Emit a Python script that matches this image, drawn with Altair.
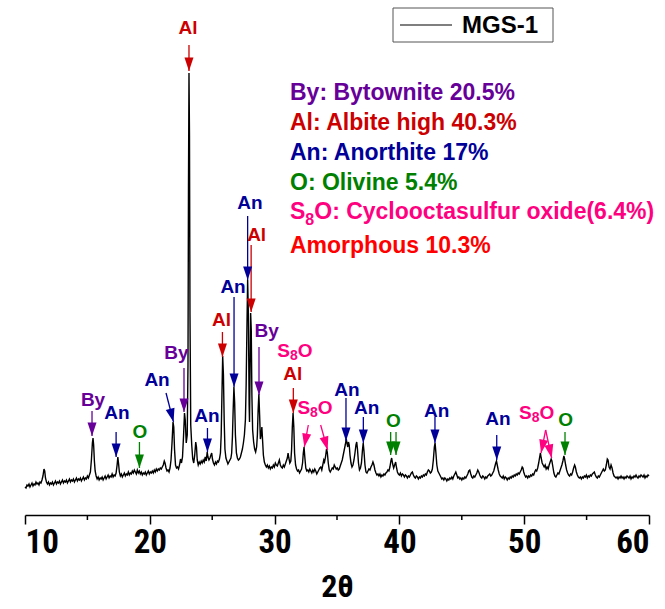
import math
import altair as alt
import pandas as pd

SERIES = "MGS-1"
X_DOMAIN = [10, 60]
Y_DOMAIN = [0, 515]
MAJOR_TICKS = [10, 20, 30, 40, 50, 60]
MINOR_TICKS = [15, 25, 35, 45, 55]

# XRD scan: (2θ in degrees, intensity in a.u.)
SCAN = [
    (10.00, 28), (10.08, 27), (10.16, 30), (10.24, 29), (10.32, 31), (10.40, 28), (10.48, 30), (10.56, 32),
    (10.64, 29), (10.72, 31), (10.80, 30), (10.88, 33), (10.96, 31), (11.04, 32), (11.12, 30), (11.20, 33),
    (11.28, 32), (11.36, 35), (11.44, 39), (11.52, 46), (11.58, 44), (11.64, 37), (11.72, 33), (11.80, 31),
    (11.88, 33), (11.96, 30), (12.04, 32), (12.12, 31), (12.20, 33), (12.28, 30), (12.36, 32), (12.44, 34),
    (12.52, 31), (12.60, 33), (12.68, 32), (12.76, 34), (12.84, 31), (12.92, 33), (13.00, 35), (13.08, 32),
    (13.16, 34), (13.24, 33), (13.32, 35), (13.40, 32), (13.48, 34), (13.56, 36), (13.64, 33), (13.72, 35),
    (13.80, 34), (13.88, 36), (13.96, 33), (14.04, 35), (14.12, 37), (14.20, 34), (14.28, 36), (14.36, 35),
    (14.44, 37), (14.52, 34), (14.60, 36), (14.68, 38), (14.76, 35), (14.84, 37), (14.92, 36), (15.00, 39),
    (15.08, 37), (15.16, 40), (15.24, 43), (15.32, 55), (15.40, 72), (15.45, 77), (15.50, 70), (15.56, 54),
    (15.62, 44), (15.70, 39), (15.78, 36), (15.86, 38), (15.94, 35), (16.02, 37), (16.10, 36), (16.18, 38),
    (16.26, 35), (16.34, 37), (16.42, 39), (16.50, 36), (16.58, 38), (16.66, 40), (16.74, 37), (16.82, 39),
    (16.90, 38), (16.98, 41), (17.06, 38), (17.14, 40), (17.22, 39), (17.30, 42), (17.38, 50), (17.44, 58),
    (17.50, 51), (17.56, 43), (17.64, 39), (17.72, 41), (17.80, 38), (17.88, 40), (17.96, 42), (18.04, 39),
    (18.12, 41), (18.20, 40), (18.28, 43), (18.36, 40), (18.44, 42), (18.52, 41), (18.60, 44), (18.68, 42),
    (18.76, 45), (18.84, 43), (18.92, 41), (19.00, 45), (19.08, 42), (19.16, 44), (19.24, 41), (19.32, 43),
    (19.40, 40), (19.48, 42), (19.56, 41), (19.64, 43), (19.72, 40), (19.80, 42), (19.88, 44), (19.96, 41),
    (20.04, 43), (20.12, 42), (20.20, 44), (20.28, 42), (20.36, 45), (20.44, 43), (20.52, 46), (20.60, 44),
    (20.68, 46), (20.76, 45), (20.84, 47), (20.92, 46), (21.00, 48), (21.08, 50), (21.16, 54), (21.22, 52),
    (21.30, 47), (21.38, 44), (21.46, 45), (21.54, 43), (21.62, 47), (21.70, 55), (21.78, 72), (21.86, 93),
    (21.92, 88), (21.98, 66), (22.06, 50), (22.14, 47), (22.22, 48), (22.30, 46), (22.38, 50), (22.46, 56),
    (22.54, 52), (22.62, 58), (22.70, 78), (22.78, 102), (22.84, 95), (22.92, 72), (23.00, 80), (23.06, 150),
    (23.10, 330), (23.14, 442), (23.18, 380), (23.22, 200), (23.28, 90), (23.36, 70), (23.44, 56), (23.52, 52),
    (23.60, 60), (23.68, 73), (23.74, 68), (23.80, 55), (23.88, 50), (23.96, 53), (24.04, 51), (24.12, 54),
    (24.20, 52), (24.28, 55), (24.36, 53), (24.44, 58), (24.52, 54), (24.60, 63), (24.66, 58), (24.74, 55),
    (24.82, 57), (24.90, 60), (24.96, 62), (25.02, 56), (25.10, 52), (25.18, 50), (25.26, 53), (25.34, 51),
    (25.42, 54), (25.50, 53), (25.58, 56), (25.66, 62), (25.72, 80), (25.78, 120), (25.84, 159), (25.90, 140),
    (25.96, 95), (26.02, 66), (26.10, 57), (26.18, 54), (26.26, 51), (26.34, 53), (26.42, 55), (26.50, 57),
    (26.56, 62), (26.62, 78), (26.68, 105), (26.74, 128), (26.80, 112), (26.86, 80), (26.94, 62), (27.02, 57),
    (27.10, 55), (27.18, 56), (27.26, 58), (27.34, 62), (27.42, 66), (27.50, 72), (27.58, 80), (27.66, 95),
    (27.72, 130), (27.78, 185), (27.84, 235), (27.90, 200), (27.96, 110), (27.99, 93), (28.03, 140), (28.08, 202),
    (28.13, 185), (28.18, 120), (28.24, 85), (28.32, 73), (28.40, 66), (28.48, 63), (28.56, 68), (28.62, 80),
    (28.68, 105), (28.74, 121), (28.80, 100), (28.86, 76), (28.92, 80), (28.98, 88), (29.04, 74), (29.10, 60),
    (29.18, 53), (29.26, 50), (29.34, 48), (29.42, 50), (29.50, 47), (29.58, 49), (29.66, 46), (29.74, 48),
    (29.82, 47), (29.90, 50), (29.98, 48), (30.06, 52), (30.14, 50), (30.22, 49), (30.30, 52), (30.38, 55),
    (30.46, 50), (30.54, 48), (30.62, 47), (30.70, 50), (30.78, 48), (30.86, 51), (30.94, 54), (31.02, 57),
    (31.08, 62), (31.14, 57), (31.22, 52), (31.30, 54), (31.36, 65), (31.42, 88), (31.48, 102), (31.54, 88),
    (31.60, 62), (31.68, 50), (31.76, 46), (31.84, 44), (31.92, 45), (32.00, 42), (32.08, 44), (32.16, 46),
    (32.24, 52), (32.30, 62), (32.36, 68), (32.42, 58), (32.50, 47), (32.58, 44), (32.66, 45), (32.74, 43),
    (32.82, 46), (32.90, 44), (32.98, 42), (33.06, 45), (33.14, 43), (33.22, 46), (33.30, 44), (33.38, 41),
    (33.46, 43), (33.54, 45), (33.62, 47), (33.70, 48), (33.78, 45), (33.86, 50), (33.94, 55), (34.00, 53),
    (34.08, 58), (34.16, 66), (34.22, 63), (34.30, 52), (34.38, 45), (34.46, 43), (34.54, 45), (34.62, 47),
    (34.70, 46), (34.78, 50), (34.86, 48), (34.94, 46), (35.02, 47), (35.10, 45), (35.18, 46), (35.26, 49),
    (35.34, 52), (35.42, 55), (35.50, 60), (35.58, 65), (35.66, 70), (35.74, 76), (35.80, 72), (35.86, 68),
    (35.92, 73), (35.98, 70), (36.04, 60), (36.12, 52), (36.20, 48), (36.28, 50), (36.36, 55), (36.44, 62),
    (36.52, 70), (36.58, 73), (36.64, 66), (36.72, 52), (36.80, 45), (36.88, 47), (36.96, 52), (37.04, 65),
    (37.10, 72), (37.16, 64), (37.24, 50), (37.32, 43), (37.40, 42), (37.48, 44), (37.56, 46), (37.64, 45),
    (37.72, 48), (37.80, 50), (37.88, 53), (37.96, 50), (38.04, 45), (38.12, 42), (38.20, 40), (38.28, 41),
    (38.36, 39), (38.44, 41), (38.52, 38), (38.60, 40), (38.68, 39), (38.76, 41), (38.84, 40), (38.92, 42),
    (39.00, 43), (39.08, 45), (39.16, 44), (39.24, 48), (39.32, 54), (39.38, 57), (39.46, 51), (39.54, 47),
    (39.62, 50), (39.70, 53), (39.76, 48), (39.84, 43), (39.92, 41), (40.00, 40), (40.08, 42), (40.16, 39),
    (40.24, 41), (40.32, 40), (40.40, 38), (40.48, 40), (40.56, 39), (40.64, 37), (40.72, 39), (40.80, 38),
    (40.88, 40), (40.96, 42), (41.04, 43), (41.12, 40), (41.20, 38), (41.28, 37), (41.36, 39), (41.44, 38),
    (41.52, 36), (41.60, 38), (41.68, 37), (41.76, 39), (41.84, 38), (41.92, 40), (42.00, 39), (42.08, 41),
    (42.16, 40), (42.24, 43), (42.32, 45), (42.40, 44), (42.48, 42), (42.56, 43), (42.64, 46), (42.72, 55),
    (42.80, 68), (42.86, 72), (42.92, 63), (43.00, 50), (43.08, 44), (43.16, 42), (43.24, 40), (43.32, 38),
    (43.40, 36), (43.48, 37), (43.56, 35), (43.64, 37), (43.72, 36), (43.80, 34), (43.88, 36), (43.96, 35),
    (44.04, 37), (44.12, 36), (44.20, 38), (44.28, 36), (44.36, 39), (44.44, 41), (44.52, 43), (44.60, 40),
    (44.68, 37), (44.76, 38), (44.84, 36), (44.92, 37), (45.00, 35), (45.08, 37), (45.16, 36), (45.24, 38),
    (45.32, 37), (45.40, 39), (45.48, 41), (45.56, 44), (45.64, 45), (45.72, 41), (45.80, 38), (45.88, 37),
    (45.96, 39), (46.04, 38), (46.12, 40), (46.20, 42), (46.28, 45), (46.36, 43), (46.44, 40), (46.52, 38),
    (46.60, 37), (46.68, 39), (46.76, 38), (46.84, 36), (46.92, 38), (47.00, 37), (47.08, 39), (47.16, 40),
    (47.24, 41), (47.32, 39), (47.40, 40), (47.48, 42), (47.56, 44), (47.64, 48), (47.72, 52), (47.78, 54),
    (47.84, 50), (47.92, 45), (48.00, 41), (48.08, 39), (48.16, 38), (48.24, 37), (48.32, 39), (48.40, 36),
    (48.48, 38), (48.56, 37), (48.64, 35), (48.72, 37), (48.80, 36), (48.88, 38), (48.96, 37), (49.04, 39),
    (49.12, 38), (49.20, 40), (49.28, 39), (49.36, 41), (49.44, 40), (49.52, 42), (49.60, 41), (49.68, 43),
    (49.76, 45), (49.84, 48), (49.90, 47), (49.96, 43), (50.04, 40), (50.12, 38), (50.20, 39), (50.28, 37),
    (50.36, 39), (50.44, 38), (50.52, 40), (50.60, 39), (50.68, 41), (50.76, 40), (50.84, 43), (50.92, 45),
    (51.00, 44), (51.08, 47), (51.16, 52), (51.24, 58), (51.30, 62), (51.36, 57), (51.44, 52), (51.52, 50),
    (51.60, 48), (51.68, 50), (51.76, 46), (51.84, 48), (51.92, 46), (52.00, 50), (52.08, 53), (52.16, 56),
    (52.22, 54), (52.30, 48), (52.38, 42), (52.46, 39), (52.54, 38), (52.62, 40), (52.70, 42), (52.78, 41),
    (52.86, 44), (52.94, 47), (53.02, 50), (53.10, 54), (53.18, 59), (53.24, 56), (53.32, 50), (53.40, 45),
    (53.48, 42), (53.56, 40), (53.64, 39), (53.72, 41), (53.80, 40), (53.88, 43), (53.96, 47), (54.04, 50),
    (54.10, 48), (54.18, 43), (54.26, 40), (54.34, 38), (54.42, 37), (54.50, 38), (54.58, 36), (54.66, 38),
    (54.74, 37), (54.82, 39), (54.90, 38), (54.98, 40), (55.06, 37), (55.14, 39), (55.22, 38), (55.30, 40),
    (55.38, 39), (55.46, 41), (55.54, 42), (55.62, 43), (55.70, 40), (55.78, 38), (55.86, 37), (55.94, 39),
    (56.02, 38), (56.10, 40), (56.18, 42), (56.26, 44), (56.34, 46), (56.42, 44), (56.50, 45), (56.58, 50),
    (56.66, 56), (56.72, 55), (56.80, 48), (56.88, 46), (56.96, 50), (57.04, 47), (57.12, 42), (57.20, 39),
    (57.28, 38), (57.36, 37), (57.44, 38), (57.52, 36), (57.60, 38), (57.68, 37), (57.76, 39), (57.84, 37),
    (57.92, 38), (58.00, 36), (58.08, 38), (58.16, 37), (58.24, 39), (58.32, 38), (58.40, 37), (58.48, 39),
    (58.56, 36), (58.64, 38), (58.72, 37), (58.80, 39), (58.88, 38), (58.96, 40), (59.04, 38), (59.12, 37),
    (59.20, 39), (59.28, 38), (59.36, 40), (59.44, 39), (59.52, 38), (59.60, 40), (59.68, 37), (59.76, 39),
    (59.84, 38), (59.92, 40), (60.00, 39),
]

PHASE_COLORS = {
    "By": "#660099",
    "Al": "#CC0000",
    "An": "#000099",
    "O": "#008000",
    "S8O": "#FF0080",
}

# Peak labels: (phase, 2θ, height)
PEAK_LABELS = [
    ("Al", 23.06, 487), ("By", 15.45, 115), ("An", 17.37, 102), ("O", 19.21, 83),
    ("An", 20.58, 135), ("By", 22.14, 162), ("An", 24.58, 99), ("Al", 25.75, 195),
    ("An", 26.67, 228), ("An", 28.03, 312), ("Al", 28.56, 280), ("By", 29.37, 184),
    ("S8O", 31.63, 164), ("Al", 31.45, 141), ("S8O", 33.24, 107), ("An", 35.80, 125),
    ("An", 37.38, 107), ("O", 39.51, 94), ("An", 42.99, 104), ("An", 47.90, 96),
    ("S8O", 51.00, 102), ("O", 53.32, 95),
]

# Arrows: (phase, 2θ start, height start, 2θ tip, height tip)
ARROWS = [
    ("Al", 23.14, 470, 23.14, 444), ("By", 15.37, 104, 15.37, 79),
    ("An", 17.30, 83, 17.30, 58), ("O", 19.17, 73, 19.17, 47),
    ("An", 21.30, 122, 21.90, 93), ("By", 22.74, 147, 22.74, 103),
    ("An", 24.62, 87, 24.62, 63), ("Al", 25.82, 183, 25.82, 158),
    ("An", 26.75, 218, 26.75, 128), ("An", 27.84, 299, 27.84, 235),
    ("Al", 28.12, 270, 28.12, 203), ("By", 28.75, 168, 28.75, 120),
    ("Al", 31.50, 127, 31.50, 102), ("S8O", 32.70, 90, 32.38, 68),
    ("S8O", 33.69, 90, 34.25, 65), ("An", 35.72, 117, 35.72, 74),
    ("An", 37.11, 98, 37.11, 72), ("O", 39.30, 83, 39.30, 60),
    ("O", 39.73, 83, 39.73, 60), ("An", 42.85, 98, 42.85, 72),
    ("An", 47.80, 80, 47.80, 55), ("S8O", 51.72, 85, 51.35, 62),
    ("S8O", 51.72, 85, 52.20, 57), ("O", 53.27, 83, 53.27, 60),
]

# Phase composition
PHASE_TABLE = [
    ("By: Bytownite 20.5%", "#660099"),
    ("Al: Albite high 40.3%", "#CC0000"),
    ("An: Anorthite 17%", "#000099"),
    ("O: Olivine 5.4%", "#008000"),
    ("S8O: Cyclooctasulfur oxide(6.4%)", "#FF0080"),
    ("Amorphous 10.3%", "#FF0000"),
]

# ---------------------------------------------------------------- layout
W, H = 624, 515
PX_PER_DEG = W / (X_DOMAIN[1] - X_DOMAIN[0])
PX_PER_UNIT = H / (Y_DOMAIN[1] - Y_DOMAIN[0])
FONT = "Liberation Sans, Arial, sans-serif"
NARROW = "Liberation Sans Narrow, Arial Narrow, Roboto Condensed, DejaVu Sans Condensed, sans-serif"

x_scale = alt.Scale(domain=X_DOMAIN, nice=False, zero=False)
y_scale = alt.Scale(domain=Y_DOMAIN, nice=False, zero=False)
x_axis = alt.Axis(
    values=MAJOR_TICKS, title="2θ", format="d", grid=False, labelOverlap=False,
    domainColor="black", domainWidth=1.5, tickColor="black", tickWidth=1.5, tickSize=9,
    labelFont=NARROW, labelFontSize=33, labelFontWeight="bold", labelColor="black",
    labelPadding=2, titleFont=NARROW, titleFontSize=32, titleFontWeight="bold",
    titleColor="black", titlePadding=12,
)


def X(field):
    return alt.X(field, type="quantitative", scale=x_scale, axis=x_axis)


def Y(field):
    return alt.Y(field, type="quantitative", scale=y_scale, axis=None)


scan_df = pd.DataFrame(SCAN, columns=["two_theta", "intensity"])
scan_df["series"] = SERIES

line = alt.Chart(scan_df).mark_line(color="black", strokeWidth=1.4).encode(
    x=X("two_theta"), y=Y("intensity")
)

minor = alt.Chart(pd.DataFrame({"t": MINOR_TICKS})).mark_rule(
    color="black", strokeWidth=1.5
).encode(x=X("t"), y=alt.value(H), y2=alt.value(H + 5))

# arrows
arrow_df = pd.DataFrame(ARROWS, columns=["phase", "x0", "y0", "x1", "y1"])
arrow_df["color"] = arrow_df["phase"].map(PHASE_COLORS)


def head_angle(r):
    dx = (r.x1 - r.x0) * PX_PER_DEG
    dy = -(r.y1 - r.y0) * PX_PER_UNIT
    return math.degrees(math.atan2(-dx, dy)) % 360


arrow_df["angle"] = arrow_df.apply(head_angle, axis=1)

shafts = alt.Chart(arrow_df).mark_rule(strokeWidth=1.3).encode(
    x=X("x0"), y=Y("y0"), x2="x1", y2="y1",
    color=alt.Color("color:N", scale=None),
)
heads = alt.Chart(arrow_df).mark_point(
    shape="M0,0 L-0.6,-1.8 L0.6,-1.8 Z", filled=True, opacity=1, size=225, strokeWidth=0
).encode(
    x=X("x1"), y=Y("y1"),
    color=alt.Color("color:N", scale=None),
    angle=alt.Angle("angle:Q", scale=None),
)

# peak labels
label_df = pd.DataFrame(PEAK_LABELS, columns=["phase", "x", "y"])
label_df["color"] = label_df["phase"].map(PHASE_COLORS)
plain = label_df[label_df["phase"] != "S8O"]
sub = label_df[label_df["phase"] == "S8O"]

LBL = 19
labels = alt.Chart(plain).mark_text(
    font=FONT, fontWeight="bold", fontSize=LBL, baseline="middle", align="center"
).encode(x=X("x"), y=Y("y"), text="phase:N", color=alt.Color("color:N", scale=None))

s_w, o_w, sub_size = 0.667 * LBL, 0.778 * LBL, 14
e_w = 0.556 * sub_size
left = -(s_w + e_w + o_w) / 2
sub_layers = []
for piece, dx, dy, size in [("S", left, 0, LBL), ("8", left + s_w, 5, sub_size), ("O", left + s_w + e_w, 0, LBL)]:
    sub_layers.append(
        alt.Chart(sub).mark_text(
            font=FONT, fontWeight="bold", fontSize=size, baseline="middle", align="left",
            dx=dx, dy=dy, color=PHASE_COLORS["S8O"],
        ).encode(x=X("x"), y=Y("y"), text=alt.value(piece))
    )

# phase composition text block
TB = 23
tb_x = 290
tb_baselines = [100, 129.5, 159.5, 189.5, 219, 253]
table_layers = []
for (txt, col), yb in zip(PHASE_TABLE, tb_baselines):
    if txt.startswith("S8O"):
        parts = [("S", tb_x, yb, TB), ("8", tb_x + 0.667 * TB, yb + 6, 16),
                 (txt[2:], tb_x + 0.667 * TB + 0.556 * 16, yb, TB)]
    else:
        parts = [(txt, tb_x, yb, TB)]
    for p, px, py, fs in parts:
        table_layers.append(
            alt.Chart(scan_df.head(1)).mark_text(
                font=FONT, fontWeight="bold", fontSize=fs, baseline="alphabetic",
                align="left", color=col,
            ).encode(x=alt.value(px - 25), y=alt.value(py), text=alt.value(p))
        )

# series key box
key_box = alt.Chart(scan_df.head(1)).mark_rect(
    fill="white", stroke="#555555", strokeWidth=1
).encode(x=alt.value(393 - 25), x2=alt.value(553 - 25), y=alt.value(8), y2=alt.value(42))
key_line = alt.Chart(scan_df.head(1)).mark_rule(color="black", strokeWidth=1.2).encode(
    x=alt.value(400 - 25), x2=alt.value(452 - 25), y=alt.value(25)
)
key_text = alt.Chart(scan_df.head(1)).mark_text(
    font=FONT, fontWeight="bold", fontSize=24, baseline="middle", align="left", color="black"
).encode(x=alt.value(462 - 25), y=alt.value(26), text=alt.value(SERIES))

chart = alt.layer(
    line, minor, shafts, heads, labels, *sub_layers, *table_layers, key_box, key_line, key_text
).properties(
    width=W, height=H,
    autosize=alt.AutoSizeParams(type="none"),
    padding={"left": 25, "top": 0, "right": 16, "bottom": 94},
).configure_view(stroke=None)

chart.save("out.html", embed_options={"renderer": "svg", "actions": False})
